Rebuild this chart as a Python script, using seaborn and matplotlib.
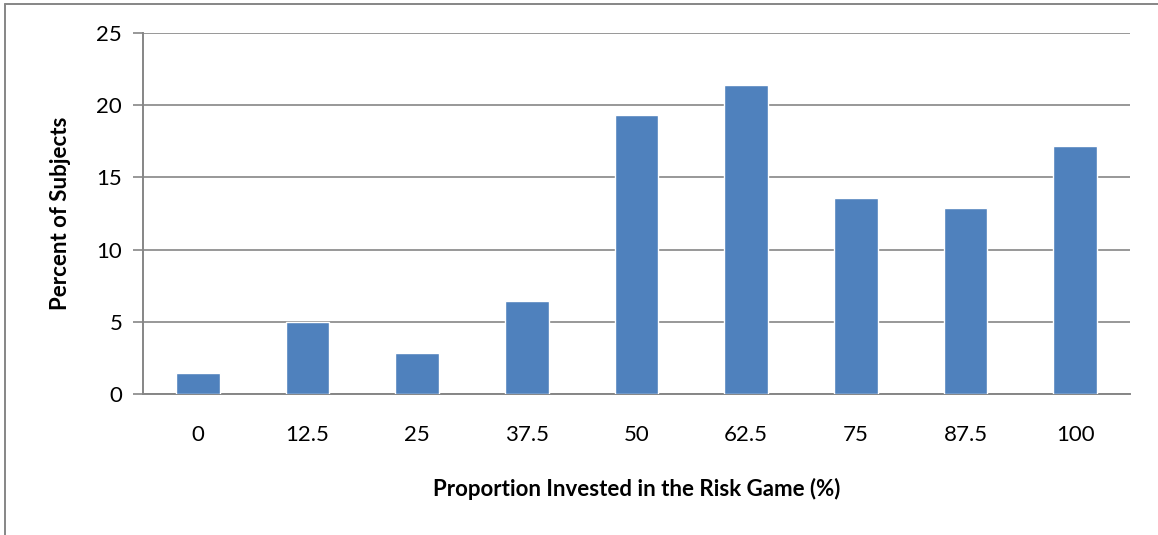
import matplotlib
matplotlib.use("Agg")
import matplotlib.pyplot as plt
from matplotlib.lines import Line2D
import seaborn as sns
import pandas as pd

# data
proportions = ["0", "12.5", "25", "37.5", "50", "62.5", "75", "87.5", "100"]
percent_subjects = [1.43, 5.0, 2.86, 6.43, 19.29, 21.43, 13.57, 12.86, 17.14]
y_ticks = [0, 5, 10, 15, 20, 25]

sns.set_theme(style="white")
plt.rcParams["font.family"] = ["Lato", "DejaVu Sans"]
plt.rcParams["text.color"] = "black"
plt.rcParams["axes.labelcolor"] = "black"
plt.rcParams["xtick.color"] = "black"
plt.rcParams["ytick.color"] = "black"

df = pd.DataFrame({"Proportion": proportions, "Percent": percent_subjects})

grey = "#868686"
fig = plt.figure(figsize=(11.58, 5.35), dpi=100)
ax = fig.add_axes([0.1235, 0.2636, 0.8523, 0.6747])

sns.barplot(data=df, x="Proportion", y="Percent", color="#4F81BD", saturation=1,
            width=0.4, ax=ax, zorder=3)

ax.set_ylim(0, 25)
ax.set_yticks(y_ticks)
ax.set_xlim(-0.5, len(proportions) - 0.5)
ax.yaxis.grid(True, color=grey, linewidth=1.2)
ax.set_axisbelow(True)

for side in ["top", "right"]:
    ax.spines[side].set_visible(False)
for side in ["left", "bottom"]:
    ax.spines[side].set_color(grey)
    ax.spines[side].set_linewidth(1.4)

ax.tick_params(axis="y", which="major", direction="out", length=7, width=1.2,
               color=grey, labelcolor="black", labelsize=16, pad=8, left=True)
ax.tick_params(axis="x", length=0, labelcolor="black", labelsize=16, pad=22)

ax.set_xlabel("Proportion Invested in the Risk Game (%)", fontsize=16,
              fontweight="bold", labelpad=24)
ax.set_ylabel("Percent of Subjects", fontsize=16, fontweight="bold", labelpad=18)

# outer chart frame
fig.add_artist(Line2D([5 / 1158, 5 / 1158], [0, 1 - 4 / 535], color=grey,
                      linewidth=1.4, transform=fig.transFigure))
fig.add_artist(Line2D([5 / 1158, 1], [1 - 4 / 535, 1 - 4 / 535], color=grey,
                      linewidth=1.4, transform=fig.transFigure))

fig.savefig("out.png", dpi=100)
